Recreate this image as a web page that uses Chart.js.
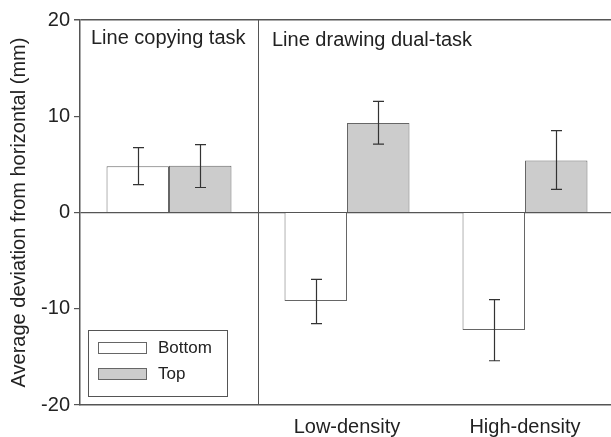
<!DOCTYPE html>
<html>
<head>
<meta charset="utf-8">
<script src="https://cdn.jsdelivr.net/npm/chart.js@4"></script>
<style>
  html, body { margin: 0; padding: 0; background: #fff; overflow: hidden; }
  #wrap { width: 614px; height: 437px; position: relative; }
</style>
</head>
<body>
<div id="wrap"><canvas id="chart"></canvas></div>
<script>
// categories along x (first group has no label under the axis)
const groupLabels = ['', 'Low-density', 'High-density'];
const panelLabels = ['Line copying task', 'Line drawing dual-task'];
const seriesNames = ['Bottom', 'Top'];

// mean deviation (mm)
const bottomMeans = [4.8, -9.2, -12.2];
const topMeans = [4.85, 9.3, 5.4];

// error bar ends
const bottomLow = [2.9, -11.55, -15.4];
const bottomHigh = [6.75, -6.95, -9.05];
const topLow = [2.6, 7.1, 2.4];
const topHigh = [7.05, 11.55, 8.5];

const yTicks = [-20, -10, 0, 10, 20];

const lineColor = '#555';
const textColor = '#222';
const fontFamily = '"Liberation Sans", Arial, sans-serif';

const errorBars = {
    id: 'errorBars',
    afterDatasetsDraw(chart) {
        const ctx = chart.ctx;
        const y = chart.scales.y;
        const ranges = [[bottomLow, bottomHigh], [topLow, topHigh]];
        ctx.save();
        ctx.strokeStyle = '#333';
        ctx.lineWidth = 1.2;
        chart.data.datasets.forEach((ds, di) => {
            const meta = chart.getDatasetMeta(di);
            meta.data.forEach((bar, i) => {
                const x = Math.round(bar.x) + 0.5;
                const y1 = y.getPixelForValue(ranges[di][0][i]);
                const y2 = y.getPixelForValue(ranges[di][1][i]);
                ctx.beginPath();
                ctx.moveTo(x, y1); ctx.lineTo(x, y2);
                ctx.moveTo(x - 5.5, y1); ctx.lineTo(x + 5.5, y1);
                ctx.moveTo(x - 5.5, y2); ctx.lineTo(x + 5.5, y2);
                ctx.stroke();
            });
        });
        ctx.restore();
    },
    afterDraw(chart) {
        const ctx = chart.ctx;
        const area = chart.chartArea;
        const xs = chart.scales.x;
        const divider = (xs.getPixelForValue(0) + xs.getPixelForValue(1)) / 2;
        ctx.save();
        ctx.fillStyle = textColor;
        ctx.font = '20px ' + fontFamily;
        ctx.textBaseline = 'alphabetic';
        ctx.textAlign = 'left';
        ctx.fillText(panelLabels[0], area.left + 11, 44);
        ctx.fillText(panelLabels[1], divider + 14, 46);

        // legend box
        const lx = area.left + 8, ly = area.bottom - 75;
        ctx.strokeStyle = lineColor;
        ctx.lineWidth = 1;
        ctx.strokeRect(lx + 0.5, ly + 0.5, 139, 66);
        ctx.font = '17px ' + fontFamily;
        ctx.textBaseline = 'middle';
        chart.data.datasets.forEach((ds, i) => {
            const sy = ly + 12 + i * 26;
            ctx.fillStyle = ds.backgroundColor;
            ctx.fillRect(lx + 10.5, sy + 0.5, 48, 11);
            ctx.strokeStyle = ds.borderColor;
            ctx.strokeRect(lx + 10.5, sy + 0.5, 48, 11);
            ctx.fillStyle = textColor;
            ctx.fillText(ds.label, lx + 70, sy + 6);
        });
        ctx.restore();
    }
};

new Chart(document.getElementById('chart'), {
    type: 'bar',
    data: {
        labels: groupLabels,
        datasets: [
            {
                label: seriesNames[0],
                data: bottomMeans,
                backgroundColor: '#ffffff',
                borderColor: '#666',
                borderWidth: 1
            },
            {
                label: seriesNames[1],
                data: topMeans,
                backgroundColor: '#cccccc',
                borderColor: '#666',
                borderWidth: 1
            }
        ]
    },
    options: {
        responsive: true,
        maintainAspectRatio: false,
        animation: false,
        layout: { padding: { top: 20, left: 0, right: 0, bottom: 0 } },
        datasets: {
            bar: { categoryPercentage: 0.702, barPercentage: 1 }
        },
        plugins: {
            legend: { display: false },
            tooltip: { enabled: false }
        },
        scales: {
            x: {
                offset: true,
                grid: {
                    offset: true,
                    drawTicks: false,
                    color: c => (c.index === 1 ? lineColor : 'rgba(0,0,0,0)'),
                    lineWidth: 1
                },
                border: { display: true, color: lineColor, width: 1.5 },
                ticks: {
                    color: textColor,
                    padding: 10,
                    font: { family: fontFamily, size: 20 }
                },
                afterFit: s => { s.height = 32; }
            },
            y: {
                min: -20,
                max: 20,
                afterBuildTicks: s => { s.ticks = yTicks.map(v => ({ value: v })); },
                grid: {
                    color: c => (c.tick && (c.tick.value === 0 || c.tick.value === 20) ? lineColor : 'rgba(0,0,0,0)'),
                    lineWidth: c => (c.tick && c.tick.value === 20 ? 1.5 : 1.2),
                    tickColor: lineColor,
                    tickLength: 6,
                    drawTicks: true
                },
                border: { display: true, color: lineColor, width: 1.5 },
                ticks: {
                    color: textColor,
                    padding: 4,
                    font: { family: fontFamily, size: 20 }
                },
                title: {
                    display: true,
                    text: 'Average deviation from horizontal (mm)',
                    color: textColor,
                    font: { family: fontFamily, size: 20 },
                    padding: { top: 7, bottom: 0 }
                },
                afterFit: s => { s.width = 80; }
            }
        }
    },
    plugins: [errorBars]
});
</script>
</body>
</html>
